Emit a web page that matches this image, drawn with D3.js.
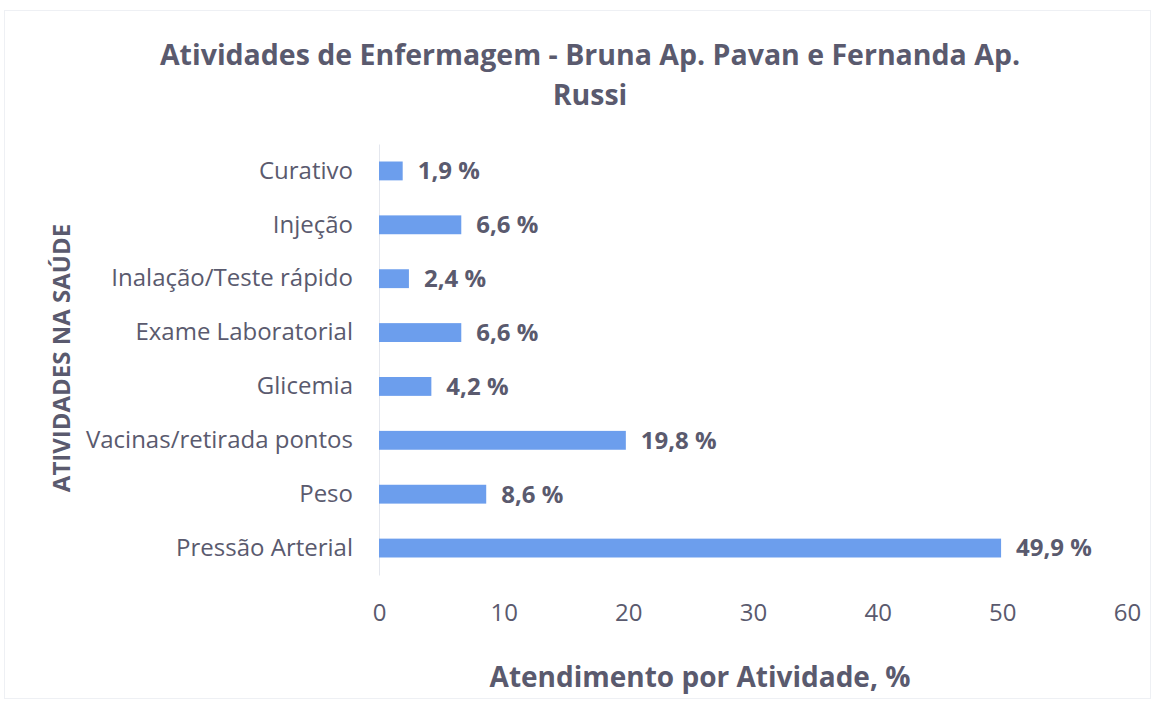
<!DOCTYPE html>
<html>
<head>
<meta charset="utf-8">
<script src="https://cdn.jsdelivr.net/npm/d3@7"></script>
<style>
  body { margin: 0; background: #ffffff; }
  text { font-family: "Open Sans", Lato, sans-serif; fill: #5a5a6e; }
</style>
</head>
<body>
<div id="chart"></div>
<script>
// dados
var categorias = ['Curativo', 'Injeção', 'Inalação/Teste rápido', 'Exame Laboratorial',
    'Glicemia', 'Vacinas/retirada pontos', 'Peso', 'Pressão Arterial'];
var valores = [1.9, 6.6, 2.4, 6.6, 4.2, 19.8, 8.6, 49.9];
var rotulos = ['1,9 %', '6,6 %', '2,4 %', '6,6 %', '4,2 %', '19,8 %', '8,6 %', '49,9 %'];
var ticksX = [0, 10, 20, 30, 40, 50, 60];

var svgWidth = 1152;
var svgHeight = 702;

var margin = { top: 144, right: 25, bottom: 127, left: 379 };
var width = 1127 - margin.left;
var height = svgHeight - margin.top - margin.bottom;

var svg = d3.select('#chart')
    .append('svg')
    .attr('width', svgWidth)
    .attr('height', svgHeight);

// moldura clara
svg.append('rect')
    .attr('x', 4.5).attr('y', 10.5)
    .attr('width', svgWidth - 6).attr('height', svgHeight - 14)
    .attr('fill', 'none')
    .attr('stroke', '#eef0f4');

svg.append('text')
    .attr('x', 590).attr('y', 65)
    .attr('text-anchor', 'middle')
    .style('font-size', '28.5px').style('font-weight', 'bold')
    .text('Atividades de Enfermagem - Bruna Ap. Pavan e Fernanda Ap.');

svg.append('text')
    .attr('x', 590).attr('y', 105)
    .attr('text-anchor', 'middle')
    .style('font-size', '28.5px').style('font-weight', 'bold')
    .text('Russi');

var chartGroup = svg.append('g')
    .attr('transform', `translate(${margin.left}, ${margin.top})`);

var xScale = d3.scaleLinear()
    .domain([0, 60])
    .range([0, width]);

var yScale = d3.scaleBand()
    .domain(categorias)
    .range([0, height])
    .paddingInner(0.65)
    .paddingOuter(0.325);

var xAxis = d3.axisBottom(xScale).tickValues(ticksX).tickSize(0).tickPadding(0);
var yAxis = d3.axisLeft(yScale).tickSize(0).tickPadding(26);

var gx = chartGroup.append('g')
    .attr('transform', `translate(0, ${height + 38})`)
    .call(xAxis);
gx.select('.domain').remove();
gx.selectAll('text')
    .attr('dy', '0.35em')
    .attr('y', 0)
    .style('font-family', '"Open Sans", sans-serif')
    .style('font-size', '24px')
    .style('fill', '#5a5a6e');

var gy = chartGroup.append('g')
    .call(yAxis);
gy.select('.domain')
    .attr('stroke', '#e4e7ee');
gy.selectAll('text')
    .style('font-family', '"Open Sans", sans-serif')
    .style('font-size', '24px')
    .style('fill', '#5a5a6e');

chartGroup.selectAll('rect.barra')
    .data(valores)
    .enter()
    .append('rect')
    .classed('barra', true)
    .attr('x', 0)
    .attr('y', (d, i) => yScale(categorias[i]))
    .attr('width', d => xScale(d))
    .attr('height', yScale.bandwidth())
    .attr('fill', '#6c9eed');

chartGroup.selectAll('text.rotulo')
    .data(valores)
    .enter()
    .append('text')
    .classed('rotulo', true)
    .attr('x', d => xScale(d) + 15)
    .attr('y', (d, i) => yScale(categorias[i]) + yScale.bandwidth() / 2)
    .attr('dy', '0.35em')
    .style('font-size', '24px')
    .style('font-weight', 'bold')
    .text((d, i) => rotulos[i]);

svg.append('text')
    .attr('x', 700).attr('y', 687)
    .attr('text-anchor', 'middle')
    .style('font-size', '28px').style('font-weight', 'bold')
    .text('Atendimento por Atividade, %');

svg.append('text')
    .attr('transform', 'translate(70, 358) rotate(-90)')
    .attr('text-anchor', 'middle')
    .style('font-size', '24px').style('font-weight', 'bold')
    .text('ATIVIDADES NA SAÚDE');
</script>
</body>
</html>
